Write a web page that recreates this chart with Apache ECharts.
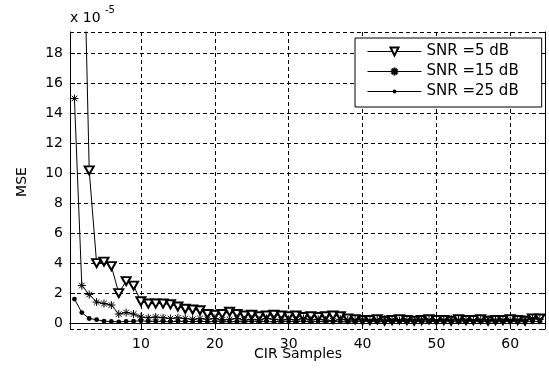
<!DOCTYPE html>
<html>
<head>
<meta charset="utf-8">
<script src="https://cdn.jsdelivr.net/npm/echarts@6/dist/echarts.min.js"></script>
<style>
    html, body { margin: 0; padding: 0; background: #fff; }
    #chart { width: 549px; height: 371px; }
</style>
</head>
<body>
<div id="chart"></div>
<script>
// values in units of 1e-5 (the axis shows "x 10^-5")
const samples = Array.from({ length: 64 }, (_, i) => i + 1);

const seriesNames = ['SNR =5 dB', 'SNR =15 dB', 'SNR =25 dB'];

const mse5 = [
    60, 32, 10.2, 4.0, 4.1, 3.8, 2.0, 2.8, 2.5, 1.45,
    1.3, 1.3, 1.3, 1.25, 1.1, 0.95, 0.9, 0.85, 0.6, 0.55,
    0.6, 0.75, 0.6, 0.5, 0.55, 0.45, 0.5, 0.55, 0.5, 0.45,
    0.5, 0.4, 0.45, 0.4, 0.45, 0.5, 0.45, 0.3, 0.25, 0.2,
    0.2, 0.25, 0.15, 0.2, 0.25, 0.2, 0.15, 0.2, 0.25, 0.2,
    0.2, 0.15, 0.25, 0.2, 0.2, 0.25, 0.15, 0.2, 0.2, 0.25,
    0.2, 0.15, 0.3, 0.3
];

const mse15 = [
    15.0, 2.5, 1.9, 1.4, 1.3, 1.2, 0.6, 0.7, 0.6, 0.4,
    0.35, 0.4, 0.35, 0.3, 0.35, 0.3, 0.25, 0.3, 0.25, 0.3,
    0.2, 0.25, 0.3, 0.2, 0.25, 0.2, 0.3, 0.25, 0.2, 0.25,
    0.2, 0.3, 0.2, 0.25, 0.2, 0.15, 0.25, 0.2, 0.2, 0.25,
    0.15, 0.2, 0.25, 0.2, 0.15, 0.2, 0.2, 0.25, 0.2, 0.15,
    0.2, 0.25, 0.2, 0.2, 0.15, 0.2, 0.25, 0.2, 0.2, 0.15,
    0.2, 0.25, 0.3, 0.25
];

const mse25 = [
    1.6, 0.7, 0.3, 0.22, 0.12, 0.1, 0.08, 0.1, 0.12, 0.15,
    0.1, 0.12, 0.1, 0.08, 0.12, 0.1, 0.1, 0.12, 0.08, 0.1,
    0.12, 0.1, 0.08, 0.1, 0.12, 0.1, 0.1, 0.08, 0.12, 0.1,
    0.1, 0.12, 0.08, 0.1, 0.1, 0.12, 0.1, 0.08, 0.1, 0.12,
    0.1, 0.1, 0.08, 0.12, 0.1, 0.1, 0.12, 0.08, 0.1, 0.1,
    0.12, 0.1, 0.08, 0.1, 0.12, 0.1, 0.1, 0.08, 0.1, 0.12,
    0.1, 0.1, 0.12, 0.1
];

const FONT = 'DejaVu Sans';
// matlab-ish markers; the dot is padded so the legend (which sizes icons from itemHeight) keeps it small
const asterisk = 'path://M5,0L5,10M0,5L10,5M1.5,1.5L8.5,8.5M1.5,8.5L8.5,1.5';
const smallDot = 'path://M0,0M10,10M5,2.6A2.4,2.4,0,1,1,5,7.4A2.4,2.4,0,1,1,5,2.6Z';

const toPairs = (vals) => samples.map((x, i) => [x, vals[i]]);

const gridDash = { color: '#000', width: 1, type: [4, 3] };

const chart = echarts.init(document.getElementById('chart'), null, { renderer: 'canvas' });

chart.setOption({
    backgroundColor: '#fff',
    animation: false,
    grid: { left: 70, right: 4, top: 32, bottom: 42 },
    legend: {
        orient: 'vertical',
        left: 355,
        top: 38,
        data: seriesNames,
        itemWidth: 54,
        itemHeight: 10,
        itemGap: 5,
        padding: [6, 23, 8, 12],
        backgroundColor: '#fff',
        borderColor: '#000',
        borderWidth: 1,
        borderRadius: 0,
        lineStyle: { width: 1 },
        textStyle: { fontFamily: FONT, fontSize: 15, color: '#000' }
    },
    xAxis: [
        {
            type: 'value',
            min: 0.4,
            max: 64.7,
            axisLine: { lineStyle: { color: '#000' } },
            axisTick: { inside: true, length: 5, lineStyle: { color: '#000' } },
            axisLabel: {
                color: '#000', fontFamily: FONT, fontSize: 14, margin: 8,
                showMinLabel: false, showMaxLabel: false
            },
            splitLine: { show: true, lineStyle: gridDash }
        },
        {
            type: 'value',
            position: 'top',
            min: 0.4,
            max: 64.7,
            axisLine: { show: true, lineStyle: { color: '#000' } },
            axisTick: { inside: true, length: 5, lineStyle: { color: '#000' } },
            axisLabel: { show: false },
            splitLine: { show: false }
        }
    ],
    yAxis: [
        {
            type: 'value',
            min: -0.4,
            max: 19.44,
            splitNumber: 10,
            axisLine: { show: true, lineStyle: { color: '#000' } },
            axisTick: { show: true, inside: true, length: 5, lineStyle: { color: '#000' } },
            axisLabel: {
                color: '#000', fontFamily: FONT, fontSize: 14, margin: 7,
                showMinLabel: false, showMaxLabel: false
            },
            splitLine: { show: true, lineStyle: gridDash }
        },
        {
            type: 'value',
            position: 'right',
            min: -0.4,
            max: 19.44,
            splitNumber: 10,
            axisLine: { show: true, lineStyle: { color: '#000' } },
            axisTick: { show: true, inside: true, length: 5, lineStyle: { color: '#000' } },
            axisLabel: { show: false },
            splitLine: { show: false }
        }
    ],
    graphic: [
        { type: 'text', left: 70, top: 11, style: { text: 'x 10', font: '14px "DejaVu Sans"', fill: '#000' } },
        { type: 'text', left: 105, top: 5, style: { text: '-5', font: '10px "DejaVu Sans"', fill: '#000' } },
        {
            type: 'text', x: 22, y: 182, rotation: Math.PI / 2,
            style: { text: 'MSE', font: '14px "DejaVu Sans"', fill: '#000', align: 'center', verticalAlign: 'middle' }
        },
        {
            type: 'text', x: 298, y: 354,
            style: { text: 'CIR Samples', font: '14px "DejaVu Sans"', fill: '#000', align: 'center', verticalAlign: 'middle' }
        }
    ],
    series: [
        {
            name: seriesNames[0],
            type: 'line',
            data: toPairs(mse5),
            symbol: 'emptyTriangle',
            symbolRotate: 180,
            symbolSize: [9, 8],
            showAllSymbol: true,
            lineStyle: { color: '#000', width: 1 },
            itemStyle: { color: '#000', borderColor: '#000', borderWidth: 1 }
        },
        {
            name: seriesNames[1],
            type: 'line',
            data: toPairs(mse15),
            symbol: asterisk,
            symbolSize: 8,
            showAllSymbol: true,
            lineStyle: { color: '#000', width: 1 },
            itemStyle: { color: '#000', borderColor: '#000', borderWidth: 1 }
        },
        {
            name: seriesNames[2],
            type: 'line',
            data: toPairs(mse25),
            symbol: smallDot,
            symbolSize: 10,
            showAllSymbol: true,
            lineStyle: { color: '#000', width: 1 },
            itemStyle: { color: '#000' }
        }
    ]
});
</script>
</body>
</html>
